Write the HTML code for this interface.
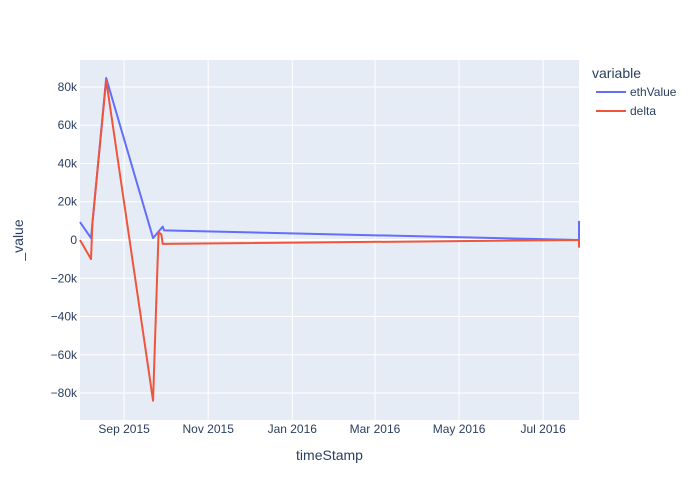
<!DOCTYPE html>
<html><head><meta charset="utf-8"><style>
body{margin:0;background:#fff;}
svg{display:block;font-family:"Liberation Sans",Arial,sans-serif;}
</style></head><body>
<svg id="chart" width="700" height="500"></svg>
<script>
const tickDates=["2015-09-01","2015-11-01","2016-01-01","2016-03-01","2016-05-01","2016-07-01"];
const tickLabels=["Sep 2015","Nov 2015","Jan 2016","Mar 2016","May 2016","Jul 2016"];
const yTicks=[-80000,-60000,-40000,-20000,0,20000,40000,60000,80000];
const yTickLabels=["−80k","−60k","−40k","−20k","0","20k","40k","60k","80k"];
const ethDates=["2015-07-31","2015-08-08","2015-08-19","2015-09-22","2015-09-29","2015-09-30","2016-07-27","2016-07-27"];
const ethValues=[9400,1000,84700,1000,7000,5000,0,10000];
const deltaDates=["2015-07-31","2015-08-08","2015-08-09","2015-08-19","2015-09-22","2015-09-26","2015-09-28","2015-09-29","2016-07-27","2016-07-27"];
const deltaValues=[0,-10000,9000,83600,-84000,4000,3000,-2000,0,-4000];

const NS="http://www.w3.org/2000/svg";
const svg=document.getElementById('chart');
const L=80,R=579,T=60,B=420;
const x0=Date.parse("2015-07-31"),x1=Date.parse("2016-07-27");
const y0=-94100,y1=94100;
const xs=d=>L+(Date.parse(d)-x0)/(x1-x0)*(R-L);
const ys=v=>B-(v-y0)/(y1-y0)*(B-T);
function mk(tag,attrs,parent){const e=document.createElementNS(NS,tag);for(const k in attrs)e.setAttribute(k,attrs[k]);(parent||svg).appendChild(e);return e;}

const bg=mk('rect',{x:L,y:T,width:R-L,height:B-T,fill:'#e5ecf6'});



tickDates.forEach((d,i)=>{
  const x=xs(d);
  const g=mk('line',{x1:x,x2:x,y1:T,y2:B,stroke:'#fff','stroke-width':1});
  
  
  const t=mk('text',{x:x,y:433,'text-anchor':'middle','font-size':12,fill:'#2a3f5f'});
  t.textContent=tickLabels[i];
  
  
});
yTicks.forEach((v,i)=>{
  const y=ys(v);
  const g=mk('line',{x1:L,x2:R,y1:y,y2:y,stroke:'#fff','stroke-width':v===0?2:1});
  
  
  const t=mk('text',{x:L-3,y:y+4,'text-anchor':'end','font-size':12,fill:'#2a3f5f'});
  t.textContent=yTickLabels[i];
  
  
});

function series(dates,vals,color,name){
  const p=mk('polyline',{points:dates.map((d,i)=>xs(d)+','+ys(vals[i])).join(' '),fill:'none',stroke:color,'stroke-width':2,'stroke-linejoin':'round'});
  
  
}
series(ethDates,ethValues,'#636efa','ethvalue-line');
series(deltaDates,deltaValues,'#ef553b','delta-line');

const xt=mk('text',{x:(L+R)/2,y:460,'text-anchor':'middle','font-size':14,fill:'#2a3f5f'});
xt.textContent='timeStamp';


const yt=mk('text',{x:0,y:0,'text-anchor':'middle','font-size':14,fill:'#2a3f5f',transform:'translate(23,240) rotate(-90)'});
yt.textContent='_value';



const lt=mk('text',{x:592,y:78,'font-size':14,fill:'#2a3f5f'});
lt.textContent='variable';


[['ethValue','#636efa',92],['delta','#ef553b',111]].forEach(([n,c,y])=>{
  const g=mk('g',{});
  
  
  mk('line',{x1:596,x2:626,y1:y,y2:y,stroke:c,'stroke-width':2},g);
  const t=mk('text',{x:630,y:y+4,'font-size':12,fill:'#2a3f5f'},g);
  t.textContent=n;
});
</script>
</body></html>
